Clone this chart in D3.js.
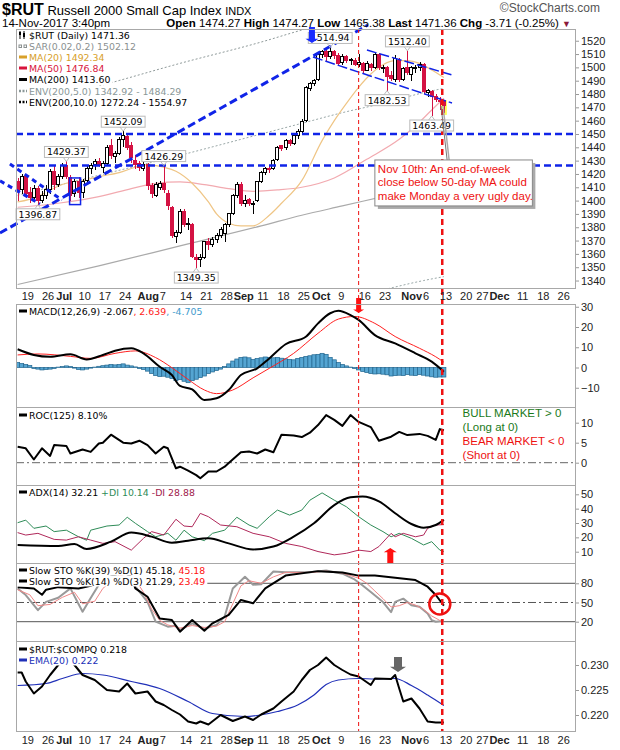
<!DOCTYPE html>
<html lang="en">
<head>
<meta charset="utf-8">
<title>$RUT Daily</title>
<script src="https://d3js.org/d3.v7.min.js"></script>
<style>
  body { margin: 0; background: #fff; }
  text { font-family: "Liberation Sans", Arial, sans-serif; }
  .leg { font-family: "DejaVu Sans", Verdana, sans-serif; font-size: 9.4px; }
  .ax text { font-family: "Liberation Sans", Arial, sans-serif; font-size: 11px; fill: #222; }
</style>
</head>
<body>
<svg id="chart" width="620" height="750"></svg>
<script>
"use strict"

// ---- calendario (dias de pregao) ----
var holidays = ["2017-07-04", "2017-09-04", "2017-11-23", "2017-12-25"];
var firstDay = "2017-06-16", lastDay = "2017-12-29";

var xTicks = [["2017-06-19","19"],["2017-06-26","26"],["2017-07-03","Jul",1],["2017-07-10","10"],
  ["2017-07-17","17"],["2017-07-24","24"],["2017-08-01","Aug",1],["2017-08-07","7"],["2017-08-14","14"],
  ["2017-08-21","21"],["2017-08-28","28"],["2017-09-01","Sep",1],["2017-09-11","11"],["2017-09-18","18"],
  ["2017-09-25","25"],["2017-10-02","Oct",1],["2017-10-09","9"],["2017-10-16","16"],["2017-10-23","23"],
  ["2017-11-01","Nov",1],["2017-11-06","6"],["2017-11-13","13"],["2017-11-20","20"],["2017-11-27","27"],
  ["2017-12-01","Dec",1],["2017-12-11","11"],["2017-12-18","18"],["2017-12-26","26"]];

// ---- precos diarios (OHLC) ----
var open = [1414,1408,1418,1406,1402,1409,1400,1404,1408,1422, 1412,1418,1426,1417,1405,1414,1406,1415,1424,1427,
  1429,1425,1428,1441,1433,1435,1446,1448,1441,1430, 1428,1424,1427,1411,1404,1410,1413,1405,1395,1373,
  1376,1392,1382,1382,1357,1356,1357,1369,1367,1371, 1374,1375,1382,1390,1404,1412,1398,1401,1397,1400,
  1414,1421,1424,1424,1431,1441,1440,1445,1443,1449, 1452,1460,1484,1488,1491,1510,1512,1508,1512,1509,
  1504,1508,1505,1505,1502,1503,1498,1502,1500,1510, 1499,1500,1494,1491,1505,1491,1500,1495,1499,1500,
  1502,1481,1482,1478,1475,1474.27];
var high = [1417,1420,1420,1410,1412,1411,1407,1412,1424,1426, 1420,1428,1429.37,1419,1416,1418,1416,1426,1428,1431,
  1432,1430,1442,1446,1437,1448,1452.09,1450,1444,1434, 1430,1430,1428,1413,1414,1415,1426.29,1408,1396,1378,
  1394,1394,1387,1383,1360,1360,1370,1372,1373,1376, 1380,1383,1391,1405,1414,1414,1404,1402,1400,1415,
  1422,1425,1426,1431,1441,1442,1446,1446,1450,1454, 1461,1486,1489,1491,1511,1513,1513,1514.94,1513,1511,
  1510,1509,1507,1507,1510,1504,1505,1503,1511,1511, 1502,1501,1497,1509,1507,1500,1512.40,1501,1502,1504,
  1503,1484,1483,1480,1478,1474.27];
var low = [1400,1405,1403,1398,1400,1396.87,1398,1401,1405,1408, 1410,1416,1416,1400,1403,1402,1402,1413,1420,1423,
  1425,1421,1426,1431,1428,1434,1440,1438,1428,1424, 1422,1422,1408,1402,1403,1408,1406,1393,1372,1368,
  1375,1380,1378,1357,1349.35,1350,1356,1363,1365,1368, 1372,1369,1380,1389,1402,1396,1395,1396,1390,1399,
  1413,1419,1421,1423,1430,1437,1438,1441,1442,1446, 1451,1459,1482,1486,1490,1507,1505,1506,1506,1502,
  1502,1503,1502,1501,1500,1496,1497,1497,1499,1498, 1496,1482.53,1490,1489,1489,1490,1494,1490,1496,1497,
  1480,1478,1463.49,1474,1468,1465.38];
var close = [1407,1418,1405,1402,1409,1400,1404,1408,1422,1412, 1418,1426,1418,1404,1414,1406,1414,1424,1426,1429,
  1426,1428,1440,1434,1435,1446,1449,1440,1432,1427, 1425,1427,1411,1405,1412,1413,1408,1396,1374,1376,
  1392,1382,1383,1358,1356,1357,1369,1367,1371,1374, 1378,1382,1390,1404,1412,1398,1400,1398,1398,1414,
  1421,1424,1423,1430,1440,1439,1445,1443,1449,1452, 1459,1485,1488,1490,1510,1512,1508,1512,1509,1503,
  1508,1505,1506,1502,1504,1498,1503,1500,1510,1500, 1500,1493,1492,1507,1491,1499,1496,1500,1500,1502,
  1482,1483,1478,1476,1475.07,1471.36];

// ---- medias e envelopes: [dia, valor] ----
var ma20 = [[0,1399],[5,1403],[8,1408],[12,1413],[16,1415],[20,1418],[25,1421],[29,1425],[32,1427],[36,1425],
  [39,1422],[43,1413],[47,1399],[49,1390],[52,1383],[55,1381],[58,1381],[62,1389],[65,1398],[70,1415],
  [75,1445],[78,1460],[81,1473],[84,1485],[87,1495],[90,1502],[93,1505],[96,1505],[99,1503],[102,1498],[105,1492.34]];
var ma50 = [[0,1395],[10,1398],[20,1403],[28,1409],[34,1413],[40,1414],[46,1412],[52,1409],[58,1407],[64,1408],
  [70,1410],[78,1417],[86,1431],[94,1446],[98,1456],[102,1468],[105,1476.84]];
var ma200 = [[0,1337],[20,1351],[40,1366],[60,1381],[70,1389],[80,1396],[90,1403],[100,1410],[105,1413.6]];
var env5Up = [[0,1404],[20,1419],[40,1434],[60,1450],[70,1458],[80,1466],[90,1473],[100,1481],[105,1484.29]];
var env5Lo = [[0,1270],[20,1283],[40,1298],[60,1312],[70,1320],[80,1326],[90,1333],[100,1340],[105,1342.92]];
var env10Up = [[0,1471],[20,1486],[40,1503],[60,1519],[70,1528],[80,1536],[90,1543],[100,1551],[105,1554.97]];

// ---- indicadores ----
var macdLine = [[0,9.0],[4,6.2],[8,5.3],[13,6.5],[17,4.0],[21,6.2],[24,8.3],[28,9.5],[31,7.0],[35,0.4],[38,-3.7],
  [40,-9.1],[43,-10.8],[46,-16.0],[49,-15.2],[52,-11.1],[55,-3.7],[59,-0.4],[62,4.5],[66,11.5],[71,15.2],[74,21.8],
  [77,26.8],[79,28.0],[82,25.9],[84,23.5],[88,16.0],[93,11.9],[98,7.0],[102,2.9],[105,-2.067]];
var macdSignal = [[0,6.2],[5,6.7],[13,5.5],[18,4.5],[24,7.0],[29,8.2],[34,4.9],[38,-0.1],[42,-5.9],[46,-11.1],
  [49,-12.9],[53,-11.1],[58,-5.1],[62,-0.4],[68,7.0],[74,16.9],[79,23.9],[83,25.2],[88,21.8],[93,15.3],[99,9.5],
  [103,5.3],[105,2.639]];
var macdHist = [2.5,2.0,1.5,1.0,-0.5,-0.8,-1.2,-1.0,-0.8,-0.5, 0.2,0.5,0.8,0.5,-0.3,-1.0,-1.2,-0.8,-0.3,0.2,
  0.6,0.9,1.2,1.5,1.3,1.5,1.8,1.2,0.8,0.3, -0.5,-1.0,-1.8,-3.0,-4.0,-4.5,-4.3,-4.8,-5.5,-6.5,
  -6.0,-6.8,-7.5,-6.5,-5.8,-5.0,-4.2,-3.0,-2.2,-1.5, -0.8,0.5,1.8,3.2,4.2,5.0,5.2,4.8,4.0,4.5,
  4.8,5.2,5.0,4.8,5.0,4.6,4.3,4.0,3.8,4.5, 5.0,5.5,5.8,6.3,6.5,7.0,6.5,5.0,3.8,2.5,
  1.5,0.8,0.2,-0.5,-1.2,-2.0,-2.5,-3.0,-3.2,-3.1, -3.3,-3.6,-4.2,-4.0,-3.8,-4.0,-3.5,-3.8,-4.0,-3.5,
  -3.8,-4.2,-4.6,-4.8,-4.7,-4.705];
var roc = [[0,4.0],[2,3.6],[4,0.8],[6,3.6],[8,1.7],[9,4.4],[12,4.2],[13,2.3],[16,3.3],[18,2.7],[20,4.8],[21,5.0],
  [23,7.0],[26,5.0],[28,4.8],[30,5.5],[32,4.4],[34,2.3],[36,4.0],[37,3.6],[39,-1.4],[40,-1.0],[42,-2.0],[44,-3.1],
  [45,-3.9],[47,-2.2],[49,-2.2],[51,-1.0],[52,-0.1],[55,2.6],[57,2.8],[59,2.3],[61,3.3],[63,2.6],[65,7.0],[68,6.8],
  [70,6.4],[72,7.5],[74,9.4],[76,11.9],[78,10.7],[80,9.2],[82,11.9],[84,10.2],[87,8.9],[89,5.5],[92,6.5],[94,7.7],
  [96,6.9],[99,7.2],[101,6.7],[103,5.7],[104,8.4],[105,8.1]];
var adx = [[0,14.7],[10,14.0],[14,15.3],[17,11.9],[23,17],[28,23.3],[33,20.5],[38,16.3],[42,17.7],[47,19.3],
  [52,15.8],[58,11.6],[63,13.6],[68,20.5],[73,29.8],[78,42.5],[82,47.9],[85,48.4],[89,45],[93,36.8],[97,29.3],
  [100,26.7],[103,28.6],[105,32.21]];
var plusDI = [[0,30.2],[2,32],[4,26.3],[7,27.9],[9,24],[12,25],[15,20.4],[17,18],[18,25],[22,27.9],[25,28.6],
  [27,34],[29,29.8],[32,24],[34,20.4],[37,22.8],[39,18],[41,25],[43,20.4],[46,17.7],[48,22.8],[51,25],[54,34],
  [57,28.6],[59,26.3],[62,34.4],[64,39],[67,35.5],[70,39],[72,45.9],[75,51],[78,45.9],[81,41.3],[84,34.4],
  [87,28.6],[90,24],[92,20.4],[94,22.8],[97,19.3],[100,14.7],[102,17],[104,11.1],[105,10.14]];
var minusDI = [[0,23.3],[2,21.6],[5,22.8],[9,18.6],[12,18.1],[15,20.4],[18,18.1],[21,15.8],[24,17],[28,11.1],
  [31,19.3],[33,24],[36,21.6],[39,32.6],[41,27.9],[43,27.4],[45,36.7],[47,34.4],[50,28.6],[54,27.4],[58,22.8],
  [62,20.4],[66,15.8],[70,13.6],[74,10.1],[78,7.8],[81,8.9],[84,11.1],[87,10.1],[89,13.6],[92,22.8],[93,20.4],
  [95,22.8],[98,20.4],[100,21.6],[101,26.3],[103,28.6],[105,28.88]];
var sto39 = [[0,74],[4,72],[6,62],[7,70],[10,74],[15,72],[18,76],[22,88],[26,98],[28,90],[29,72],[32,59],[35,25],
  [38,22.6],[40,4.4],[43,22.6],[46,6],[48,17.5],[52,30.5],[55,54],[58,48.7],[61,72],[66,92],[74,99],[80,97],
  [84,92],[88,92],[93,88.8],[98,85],[101,74.7],[103,61.7],[105,45.18]];
var sto14K = [[0,72],[2,61.7],[5,38],[7,51],[10,57.3],[13,72],[16,35.6],[18,57],[20,77.6],[24,95],[27,98],
  [29,74.7],[32,51],[34,20],[37,12.2],[39,13.7],[40,6.9],[43,17.5],[46,8.9],[49,15],[51,28],[53,72],[56,90.3],
  [58,77.6],[60,78.6],[63,98.4],[66,97.4],[72,97.4],[76,100],[80,95],[83,86],[85,76.6],[87,66.3],[90,50.7],
  [92,35],[93,51],[95,56],[97,45.8],[99,43.2],[101,32.8],[102,22.4],[103,20],[105,21.29]];
var sto14D = [[0,70],[3,62],[5,45],[8,47],[11,58],[14,66],[16,48],[19,52],[21,72],[25,93],[29,86],[31,66],
  [33,40],[35,22],[37,15],[40,10],[43,14],[46,11],[49,13],[51,20],[53,48],[55,76],[57,84],[60,80],[63,90],
  [66,97],[72,97],[76,99],[80,96],[84,88],[86,80],[88,68],[90,56],[92,43],[94,45],[96,50],[98,46],[100,39],
  [102,29],[104,22],[105,23.49]];
var relRatio = [[0,0.2285],[1,0.2285],[2,0.2267],[4,0.2243],[6,0.2257],[8,0.2280],[10,0.2300],[12,0.2315],
  [14,0.2300],[16,0.2280],[19,0.2270],[22,0.2250],[25,0.2247],[27,0.2263],[29,0.2243],[32,0.2247],[34,0.2227],
  [36,0.2220],[38,0.2210],[40,0.2201],[42,0.2187],[44,0.2183],[45,0.2187],[47,0.2181],[50,0.2200],[53,0.2188],
  [56,0.2197],[58,0.2190],[60,0.2201],[63,0.2213],[65,0.2227],[68,0.2247],[70,0.2270],[72,0.2290],[74,0.2300],
  [76,0.2315],[78,0.2300],[80,0.2290],[82,0.2281],[84,0.2277],[87,0.2260],[88,0.2273],[92,0.2272],[93,0.2280],
  [94,0.2253],[95,0.2227],[97,0.2233],[99,0.2213],[101,0.2187],[103,0.2185],[105,0.2185]];
var relEma = [[0,0.2259],[7,0.2263],[11,0.2273],[16,0.2283],[21,0.2280],[28,0.2267],[35,0.2253],[42,0.2227],
  [48,0.2203],[56,0.2197],[59,0.2199],[64,0.2207],[69,0.2220],[73,0.2240],[76,0.2261],[79,0.2270],[84,0.2273],
  [88,0.2272],[93,0.2273],[97,0.2259],[101,0.2240],[105,0.2219]];

// ---- eixos verticais ----
var priceTicks = d3.range(1340, 1521, 10);
var macdTicks = [-10, 0, 10, 20, 30];
var rocTicks = [0, 5, 10];
var adxTicks = [10, 20, 30, 40, 50];
var stoTicks = [20, 50, 80];
var relTicks = [0.220, 0.225, 0.230];

// ---- anotacoes ----
var priceNotes = [[12,"h",1429.37],[26,"h",1452.09],[36,"h",1426.29],[77,"h",1514.94],[96,"h",1512.40],
  [5,"l",1396.87],[44,"l",1349.35],[91,"l",1482.53],[102,"l",1463.49]];
var noteLines = ["Nov 10th: An end-of-week", "close below 50-day MA could", "make Monday a very ugly day."];

var days = [];
for (var d = new Date(firstDay + "T00:00:00Z"); d <= new Date(lastDay + "T00:00:00Z"); d.setUTCDate(d.getUTCDate() + 1)) {
  var s = d.toISOString().slice(0, 10), wd = d.getUTCDay();
  if (wd > 0 && wd < 6 && holidays.indexOf(s) < 0) days.push(s);
}

var svg = d3.select("#chart");
svg.append("rect").attr("width", 620).attr("height", 750).attr("fill", "#fff");
var L = 16, R = 575;
var x = d3.scaleLinear().domain([-0.4, 137.3]).range([L, R]);
var RED = "#d41243", BLUE = "#1024e8";

function mkPanel(name, top, bot, dom, ticks, fmt) {
  var y = d3.scaleLinear().domain(dom).range([bot, top]);
  svg.append("clipPath").attr("id", "clip-" + name).append("rect")
    .attr("x", L).attr("y", top).attr("width", R - L).attr("height", bot - top);
  var g = svg.append("g").attr("clip-path", "url(#clip-" + name + ")");
  var ax = svg.append("g").attr("class", "ax").attr("transform", "translate(" + R + ",0)")
    .call(d3.axisRight(y).tickValues(ticks).tickSize(4).tickPadding(2).tickFormat(d3.format(fmt)));
  ax.select(".domain").remove();
  ax.selectAll("line").attr("stroke", "#999");
  return {y: y, g: g, top: top, bot: bot};
}

var P = {
  price: mkPanel("price", 29, 288, [1334.4, 1528.8], priceTicks, "d"),
  macd: mkPanel("macd", 304, 407, [-19.5, 31.36], macdTicks, "d"),
  roc: mkPanel("roc", 407, 485, [-5.575, 13.925], rocTicks, "d"),
  adx: mkPanel("adx", 485, 563, [2.13, 56.48], adxTicks, "d"),
  sto: mkPanel("sto", 563, 641, [-10.16, 111.7], stoTicks, "d"),
  rel: mkPanel("rel", 641, 731, [0.2168, 0.2348], relTicks, ".3f")
};

function drawLine(p, pts, color, w, dash, curve) {
  p.g.append("path").datum(pts)
    .attr("d", d3.line().x(d => x(d[0])).y(d => p.y(d[1])).curve(curve || d3.curveLinear))
    .attr("fill", "none").attr("stroke", color).attr("stroke-width", w)
    .attr("stroke-dasharray", dash || null).attr("stroke-linejoin", "round");
}
function hLine(p, v, color, dash) {
  p.g.append("line").attr("x1", L).attr("x2", R).attr("y1", p.y(v)).attr("y2", p.y(v))
    .attr("stroke", color).attr("stroke-dasharray", dash || null);
}

// ---- painel de precos ----
var sm = d3.curveMonotoneX;
drawLine(P.price, env10Up, "#8f9a9a", 1, "2,2", sm);
drawLine(P.price, env5Up, "#9aa8a8", 1, "2,2", sm);
drawLine(P.price, env5Lo, "#9aa8a8", 1, "2,2", sm);
drawLine(P.price, ma200, "#aaaaaa", 1.2, null, sm);
drawLine(P.price, ma50, "#f2aab0", 1.2, null, sm);
drawLine(P.price, ma20, "#efc585", 1.2, null, sm);

var last = close.length - 1;
P.price.g.append("rect").attr("x", x(last) - 3).attr("width", 6)
  .attr("y", P.price.y(1475.5)).attr("height", P.price.y(1464.3) - P.price.y(1475.5)).attr("fill", "#ffff55");

var idx = d3.range(close.length);
var up = i => close[i] >= (i ? close[i - 1] : open[i]);
var cg = P.price.g.append("g").attr("shape-rendering", "crispEdges");
cg.selectAll("line").data(idx).enter().append("line")
  .attr("x1", i => Math.round(x(i))).attr("x2", i => Math.round(x(i)))
  .attr("y1", i => P.price.y(high[i])).attr("y2", i => P.price.y(low[i]))
  .attr("stroke", i => up(i) ? "#000" : RED);
cg.selectAll("rect").data(idx).enter().append("rect")
  .attr("x", i => Math.round(x(i)) - 1.5).attr("width", 3)
  .attr("y", i => P.price.y(Math.max(open[i], close[i])))
  .attr("height", i => Math.max(1, Math.abs(P.price.y(open[i]) - P.price.y(close[i]))))
  .attr("fill", i => close[i] < open[i] ? RED : "#fff")
  .attr("stroke", i => up(i) ? "#000" : RED);

// linhas de tendencia desenhadas a mao
var trend = [
  {a: [-4.34, 1375.7], b: [86.3, 1531.8], w: 3, dash: "8,4"},
  {a: [-1.9, 1427.5], b: [10.9, 1400.5], w: 3, dash: "5,4"},
  {a: [-4.34, 1414.8], b: [5.5, 1397.5], w: 3, dash: "5,4"},
  {a: [-0.4, 1450], b: [137.3, 1450], w: 2.5, dash: "7,4"},
  {a: [-0.4, 1426.3], b: [137.3, 1426.3], w: 2.5, dash: "7,4"},
  {a: [86.05, 1513], b: [107, 1494.3], w: 1.5, dash: "10,3"},
  {a: [72.75, 1507.8], b: [107, 1473.3], w: 1.5, dash: "10,3"}
];
trend.forEach(function (t) {
  svg.append("line").attr("x1", x(t.a[0])).attr("y1", P.price.y(t.a[1]))
    .attr("x2", x(t.b[0])).attr("y2", P.price.y(t.b[1]))
    .attr("stroke", BLUE).attr("stroke-width", t.w).attr("stroke-dasharray", t.dash);
});
svg.append("rect").attr("x", x(12.8)).attr("y", P.price.y(1417))
  .attr("width", x(15.5) - x(12.8)).attr("height", P.price.y(1397) - P.price.y(1417))
  .attr("fill", "none").attr("stroke", BLUE).attr("stroke-width", 1.5);

// ---- MACD ----
P.macd.g.selectAll("rect").data(macdHist).enter().append("rect")
  .attr("x", (v, i) => x(i) - 2.03).attr("width", 4.06)
  .attr("y", v => P.macd.y(Math.max(0, v))).attr("height", v => Math.abs(P.macd.y(v) - P.macd.y(0)))
  .attr("fill", "#55a5d2").attr("stroke", "#22668f").attr("stroke-width", 0.7);
drawLine(P.macd, macdSignal, "#ff2020", 1, null, sm);
drawLine(P.macd, macdLine, "#000", 2, null, sm);

// ---- ROC ----
hLine(P.roc, 0, "#666", "8,3,2,3");
drawLine(P.roc, roc, "#000", 2);

// ---- ADX ----
drawLine(P.adx, plusDI, "#2e8b57", 1);
drawLine(P.adx, minusDI, "#b0285a", 1);
drawLine(P.adx, adx, "#000", 2, null, sm);

// ---- STO ----
hLine(P.sto, 80, "#555");
hLine(P.sto, 20, "#555");
hLine(P.sto, 50, "#555", "8,3,2,3");
drawLine(P.sto, sto14K, "#999", 2);
drawLine(P.sto, sto14D, "#f08888", 1);
drawLine(P.sto, sto39, "#000", 2);

// ---- RUT:COMPQ ----
drawLine(P.rel, relEma, "#2030b8", 1.2, null, sm);
drawLine(P.rel, relRatio, "#000", 2);

// ---- linhas verticais vermelhas ----
[[84, 1, "4,3"], [104.6, 2.5, "6,4"]].forEach(function (v) {
  svg.append("line").attr("x1", x(v[0])).attr("x2", x(v[0])).attr("y1", 29).attr("y2", 731)
    .attr("stroke", "#ee1111").attr("stroke-width", v[1]).attr("stroke-dasharray", v[2]);
});

// ---- legendas ----
function legendRow(cy, parts, icon) {
  var g = svg.append("g");
  var bg = g.append("rect").attr("fill", "#fff");
  var t = g.append("text").attr("class", "leg").attr("x", 29).attr("y", cy + 3.5);
  parts.forEach(p => t.append("tspan").attr("fill", p[1]).text(p[0]));
  var bb = t.node().getBBox();
  bg.attr("x", 17).attr("y", cy - 5.5).attr("width", bb.x + bb.width - 15).attr("height", 11);
  icon(g, cy);
}
function lineIcon(color, dash, w) {
  return function (g, cy) {
    g.append("line").attr("x1", 19).attr("x2", 27).attr("y1", cy).attr("y2", cy)
      .attr("stroke", color).attr("stroke-width", w || 3).attr("stroke-dasharray", dash || null);
  };
}
legendRow(35, [["$RUT (Daily) 1471.36", "#000"]], function (g, cy) {
  [[19, -3, 3], [23, -2, 4]].forEach(function (c) {
    g.append("line").attr("x1", c[0] + 1).attr("x2", c[0] + 1).attr("y1", cy - 4).attr("y2", cy + 4).attr("stroke", "#000");
    g.append("rect").attr("x", c[0]).attr("y", cy + c[1]).attr("width", 2).attr("height", c[2]).attr("fill", "#000");
  });
});
legendRow(46, [["SAR(0.02,0.2) 1502.12", "#8a9090"]], function (g, cy) {
  [19, 24].forEach(px => g.append("rect").attr("x", px).attr("y", cy - 1).attr("width", 2.5).attr("height", 2.5)
    .attr("fill", "none").attr("stroke", "#8a9090"));
});
legendRow(57, [["MA(20) 1492.34", "#d8a02a"]], lineIcon("#d8a02a"));
legendRow(68, [["MA(50) 1476.84", "#d8143c"]], lineIcon("#d8143c"));
legendRow(79.5, [["MA(200) 1413.60", "#000"]], lineIcon("#000"));
legendRow(91, [["ENV(200,5.0) 1342.92 - 1484.29", "#8a9898"]], lineIcon("#8a9898", "2,1.5", 2.5));
legendRow(102, [["ENV(200,10.0) 1272.24 - 1554.97", "#000"]], lineIcon("#000", "2,1.5", 2.5));

legendRow(311, [["MACD(12,26,9) -2.067", "#000"], [", 2.639", "#ff2020"], [", -4.705", "#3d9acc"]], lineIcon("#000"));
legendRow(415, [["ROC(125) 8.10%", "#000"]], lineIcon("#000"));
legendRow(492, [["ADX(14) 32.21 ", "#000"], ["+DI 10.14 ", "#2e8b57"], ["-DI 28.88", "#a0204a"]], lineIcon("#000"));
legendRow(570, [["Slow STO %K(39) %D(1) 45.18, ", "#000"], ["45.18", "#ff1010"]], lineIcon("#000"));
legendRow(581, [["Slow STO %K(14) %D(3) 21.29, ", "#000"], ["23.49", "#ff1010"]], lineIcon("#000"));
legendRow(649, [["$RUT:$COMPQ 0.218", "#000"]], lineIcon("#000"));
legendRow(660, [["EMA(20) 0.222", "#2030b8"]], lineIcon("#2030b8"));

var rocNote = [["BULL MARKET > 0", "#1a7a1a", 12.4], ["(Long at 0)", "#1a7a1a", 8.9],
  ["BEAR MARKET < 0", "#ee1111", 5.4], ["(Short at 0)", "#ee1111", 1.9]];
rocNote.forEach(function (r) {
  svg.append("text").attr("x", x(109.6)).attr("y", P.roc.y(r[2]) + 4).attr("font-size", 11.5)
    .attr("fill", r[1]).text(r[0]);
});

// ---- rotulos de maximas / minimas ----
priceNotes.forEach(function (n) {
  var cx = x(n[0]), py = P.price.y(n[2]);
  var g = svg.append("g");
  var by = n[1] === "h" ? py - 15 : py + 4;
  var t = g.append("text").attr("class", "leg").attr("font-size", 9.5).attr("x", cx).attr("y", by + 9)
    .attr("text-anchor", "middle").text(n[2].toFixed(2));
  var bb = t.node().getBBox();
  g.insert("rect", "text").attr("x", bb.x - 2.5).attr("y", by).attr("width", bb.width + 5).attr("height", 11)
    .attr("fill", "#fff").attr("stroke", "#bbb");
  var ey = n[1] === "h" ? by + 11 : by;
  g.append("path").attr("d", "M" + (cx - 3) + "," + ey + "L" + cx + "," + py + "L" + (cx + 3) + "," + ey)
    .attr("fill", "none").attr("stroke", "#bbb");
});

// ---- caixa de comentario ----
var bx0 = x(88), bx1 = x(126.8), by0 = P.price.y(1430.5), by1 = P.price.y(1396);
svg.append("line").attr("x1", x(105.8) + 2).attr("y1", by0).attr("x2", x(104.3) + 2).attr("y2", P.price.y(1471))
  .attr("stroke", "#aaa").attr("stroke-width", 1.5);
svg.append("line").attr("x1", x(105.8)).attr("y1", by0).attr("x2", x(104.3)).attr("y2", P.price.y(1471))
  .attr("stroke", "#777").attr("stroke-width", 1);
svg.append("rect").attr("x", bx0 + 3).attr("y", by0 + 3).attr("width", bx1 - bx0).attr("height", by1 - by0).attr("fill", "#aaa");
svg.append("rect").attr("x", bx0).attr("y", by0).attr("width", bx1 - bx0).attr("height", by1 - by0)
  .attr("fill", "#fff").attr("stroke", "#888");
noteLines.forEach(function (s, k) {
  svg.append("text").attr("x", bx0 + 3).attr("y", by0 + 13 + k * 13.5).attr("font-size", 11.5)
    .attr("fill", "#ee1111").text(s);
});

// ---- setas e circulo ----
function arrow(p, i, v, dir, color, len, hw, sw) {
  var cx = x(i), ty = p.y(v), hl = hw * 0.65;
  var b = ty - dir * len, h = ty - dir * hl;
  var pts = [[cx, ty], [cx + hw, h], [cx + sw, h], [cx + sw, b], [cx - sw, b], [cx - sw, h], [cx - hw, h]];
  svg.append("polygon").attr("points", pts.join(" ")).attr("fill", color);
}
arrow(P.price, 72.5, 1518.3, 1, "#1a2cff", 16, 6.5, 3);
arrow(P.macd, 84, 26.9, 1, "#ff1010", 15, 5.5, 2.5);
arrow(P.adx, 91.8, 12.5, -1, "#ff1010", 16, 6.5, 3);
arrow(P.rel, 93.7, 0.2286, 1, "#666", 15, 8, 4);
svg.append("circle").attr("cx", x(104)).attr("cy", P.sto.y(47.7)).attr("r", 10.5)
  .attr("fill", "none").attr("stroke", "#ee1111").attr("stroke-width", 2.5);

// ---- eixo de datas (rotulos encostados, sem sobrepor) ----
function xLabels(yb) {
  var g = svg.append("g"), prevEnd = -1e9;
  xTicks.forEach(function (d) {
    var px = x(days.indexOf(d[0])) - (d[2] ? 6 : 0);
    px = Math.max(px, prevEnd + 0.8);
    var t = g.append("text").attr("x", px).attr("y", yb).attr("font-size", 11)
      .attr("font-weight", d[2] ? "bold" : null).attr("fill", "#222").text(d[1]);
    prevEnd = px + t.node().getComputedTextLength();
  });
}
xLabels(300);
xLabels(744);

// ---- bordas ----
Object.keys(P).forEach(function (k) {
  var p = P[k];
  svg.append("rect").attr("x", L + 0.5).attr("y", p.top + 0.5).attr("width", R - L).attr("height", p.bot - p.top)
    .attr("fill", "none").attr("stroke", "#a8a8a8");
});

// ---- cabecalho ----
var h1 = svg.append("text").attr("x", 2).attr("y", 15);
h1.append("tspan").attr("font-weight", "bold").attr("font-size", 16).text("$RUT");
h1.append("tspan").attr("font-size", 13).text(" Russell 2000 Small Cap Index ");
h1.append("tspan").attr("font-size", 11).text("INDX");
svg.append("text").attr("x", 2).attr("y", 27).attr("font-size", 11.5).text("14-Nov-2017 3:40pm");
var h2 = svg.append("text").attr("x", 571).attr("y", 27).attr("font-size", 11.5).attr("text-anchor", "end");
[["Open", 1], [" 1474.27  "], ["High", 1], [" 1474.27  "], ["Low", 1], [" 1465.38  "], ["Last", 1], [" 1471.36  "],
 ["Chg", 1], [" -3.71 (-0.25%) "]].forEach(function (p) {
  h2.append("tspan").attr("font-weight", p[1] ? "bold" : null).text(p[0]);
});
h2.append("tspan").attr("fill", "#8b1a3a").attr("font-size", 9).text("\u25BC");
svg.append("text").attr("x", 600).attr("y", 12).attr("text-anchor", "end").attr("font-size", 12)
  .attr("fill", "#555").text("\u00A9StockCharts.com");
</script>
</body>
</html>
